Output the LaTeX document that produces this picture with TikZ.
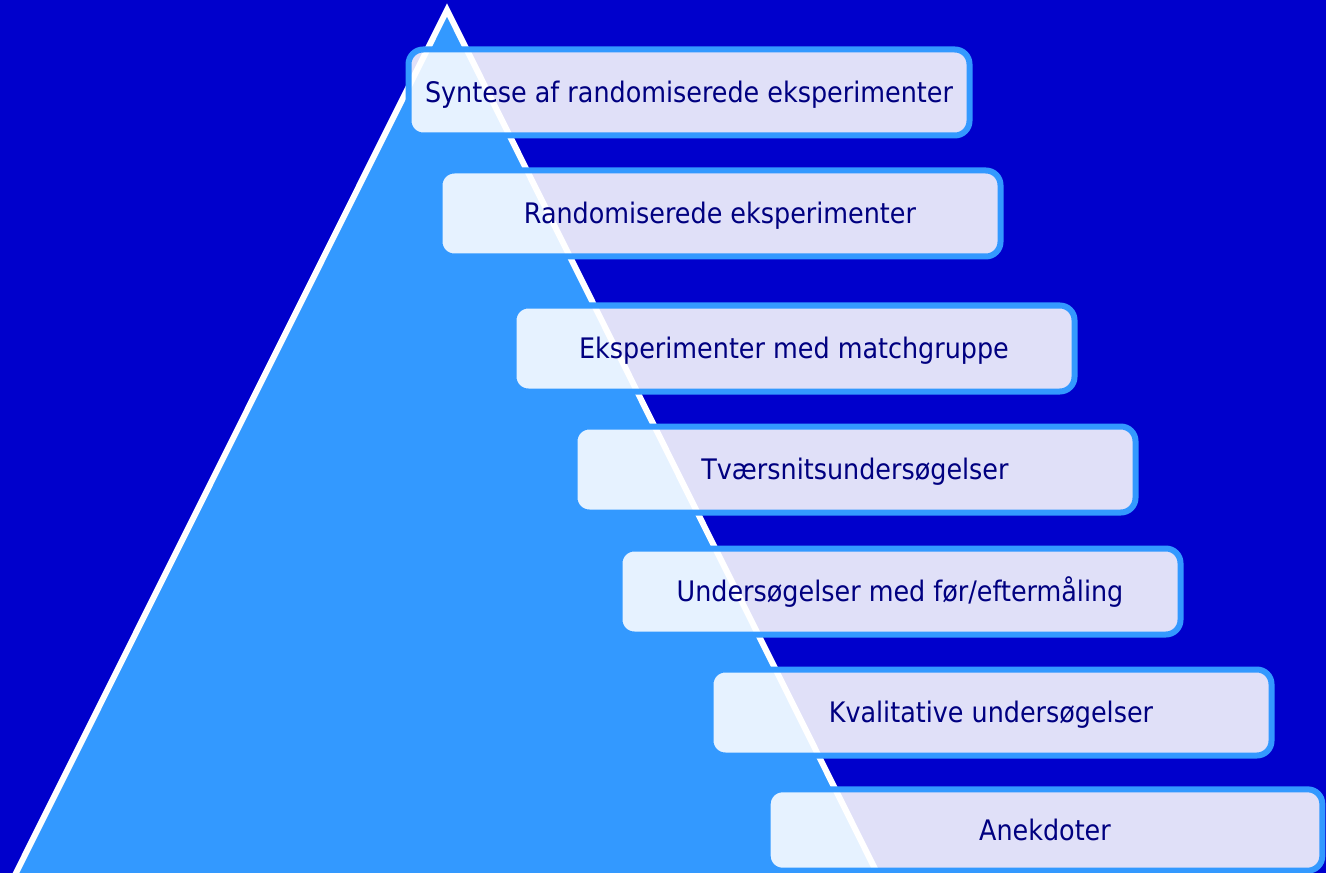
\documentclass[tikz,border=0pt]{standalone}
\usepackage{fontspec}
\setmainfont{DejaVu Sans Condensed}
\usepackage{tikz}
\usetikzlibrary{calc, positioning}
\definecolor{bgblue}{RGB}{0,0,204}
\definecolor{pyrblue}{RGB}{51,153,255}
\definecolor{textblue}{RGB}{0,0,128}
\tikzset{
    pyramid/.style = {fill=pyrblue, draw=white, line width=4.5pt, line join=miter},
    levelnode/.style = {draw=pyrblue, line width=4.5pt, fill=white, fill opacity=0.88, text opacity=1,
      rectangle, rounded corners=11pt, minimum width=420.75pt, minimum height=64.5pt, inner sep=0pt,
      text height=15.5pt, text depth=0pt, text=textblue, font=\fontsize{21.2}{24}\selectfont},
}

\begin{document}
\begin{tikzpicture}[x=0.75pt, y=-0.75pt]
    \fill [bgblue] (0,0) rectangle (1326,873);
    \useasboundingbox (0,0) rectangle (1326,873);

    % the pyramid
    \begin{scope}
        \clip (0,0) rectangle (1326,873);
        \draw [pyramid] (447,10) -- (1,903) -- (892,903) -- cycle;
    \end{scope}

    % the levels, top to bottom
    \node [name=syntese, levelnode] at (689,92.5) {Syntese af randomiserede eksperimenter};
    \node [name=random, levelnode] at (720,213.5) {Randomiserede eksperimenter};
    \node [name=match, levelnode] at (794,348.5) {Eksperimenter med matchgruppe};
    \node [name=tvaers, levelnode] at (855,469.5) {Tværsnitsundersøgelser};
    \node [name=foerefter, levelnode] at (900,591.5) {Undersøgelser med før/eftermåling};
    \node [name=kvalitativ, levelnode] at (991,712.5) {Kvalitative undersøgelser};
    \node [name=anekdoter, levelnode, minimum width=416pt, minimum height=61pt] at (1045,830) {Anekdoter};
\end{tikzpicture}
\end{document}
